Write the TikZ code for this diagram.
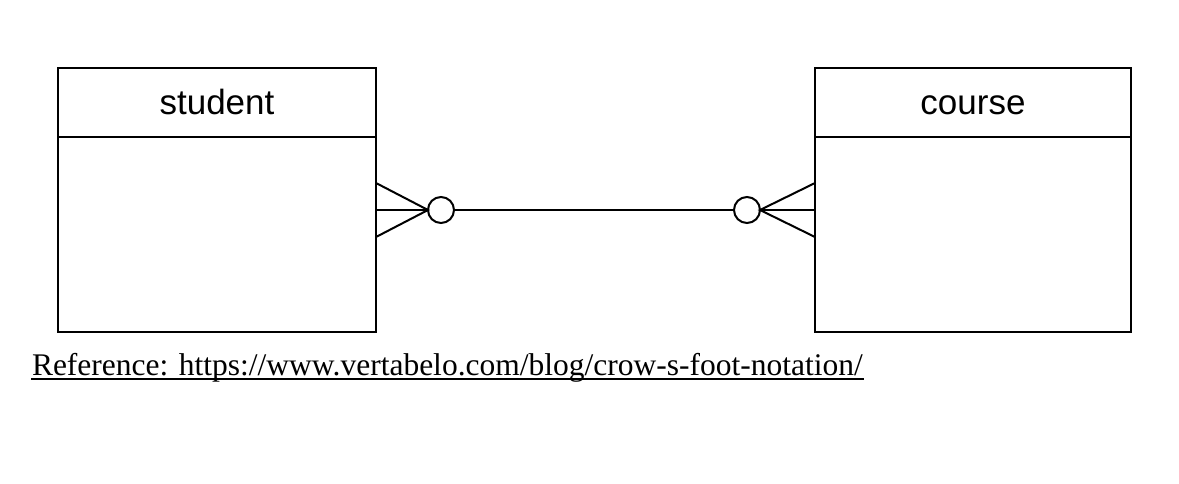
\documentclass[tikz,border=0pt]{standalone}
\usepackage{fontspec}
\setmainfont{Liberation Serif}
\newfontfamily\arialf{Liberation Sans}
\begin{document}
\begin{tikzpicture}[x=1pt,y=-1pt,line width=2pt,
  lbl/.style={font=\arialf\fontsize{35}{40}\selectfont,anchor=base,inner sep=0pt}]
\useasboundingbox (0,0) rectangle (1179,483);
\draw (58,68) rectangle (376,332);
\draw (58,137) -- (376,137);
\draw (815,68) rectangle (1131,332);
\draw (815,137) -- (1131,137);
\node[lbl] (s) at (217,114) {student};
\node[lbl] (c) at (973,114) {course};
\node[draw,circle,minimum size=26pt,inner sep=0pt] (cl) at (441,210) {};
\node[draw,circle,minimum size=26pt,inner sep=0pt] (cr) at (747,210) {};
\coordinate (sl) at (376,210);
\coordinate (sr) at (815,210);
\draw (cl) -- (cr);
\draw (sl) -- (cl);
\draw (cr) -- (sr);
\draw (376,183) -- (428,210) -- (376,237);
\draw (815,183) -- (760,210) -- (815,237);
\node[anchor=base west,inner sep=0pt,font=\fontsize{31.5}{36}\selectfont] (ref) at (31,375) {Reference: https://www.vertabelo.com/blog/crow-s-foot-notation/};
\draw[line width=1.5pt] ([yshift=-4pt]ref.base west) -- ([yshift=-4pt]ref.base east);
\end{tikzpicture}
\end{document}
